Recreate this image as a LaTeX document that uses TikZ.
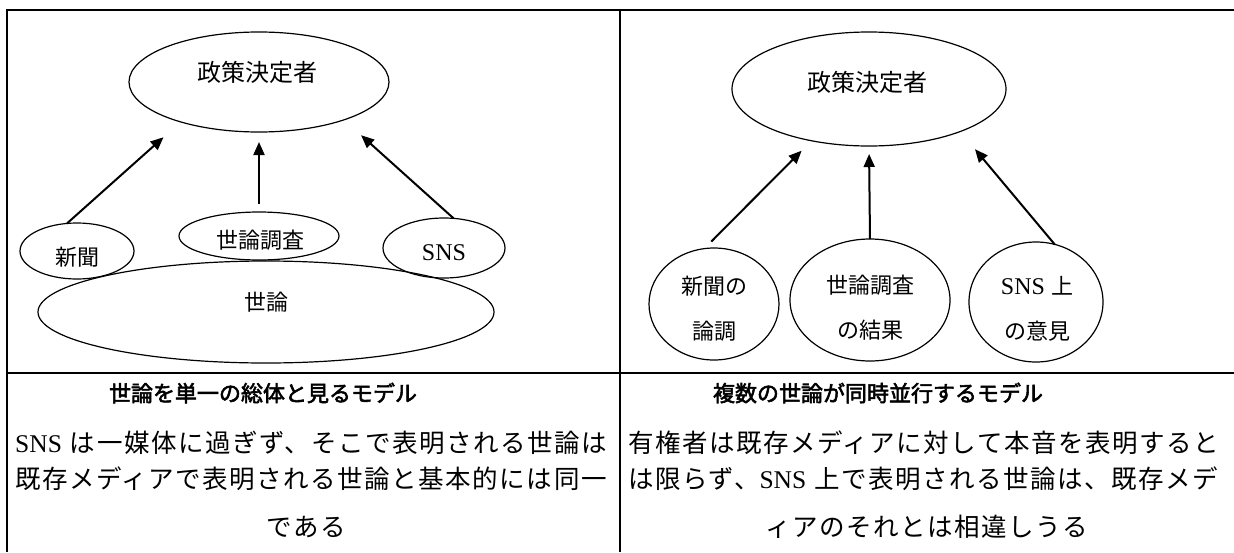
\documentclass[tikz,border=0pt]{standalone}
\usepackage{fontspec}
\setmainfont{Noto Sans CJK JP}
\newfontfamily\lat{Liberation Serif}
\newfontfamily\bodyjp[LetterSpace=6]{Noto Sans CJK JP}
\newfontfamily\titlejp[FakeBold=2.5]{Noto Sans CJK JP}
\usetikzlibrary{arrows.meta,shapes.geometric}
\begin{document}
\begin{tikzpicture}[x=1pt,y=-1pt,
  frame/.style={line width=2.5pt, line join=miter},
  ell/.style={draw, ellipse, line width=1.2pt, inner sep=0pt, outer sep=0pt},
  arr/.style={line width=2pt, -{Triangle[length=13pt,width=11pt]}},
  lbl/.style={inner sep=0pt, font=\fontsize{22pt}{26pt}\selectfont},
  lbltwo/.style={inner sep=0pt, align=center, font=\fontsize{22pt}{45pt}\selectfont},
  lblbig/.style={inner sep=0pt, font=\fontsize{24pt}{28pt}\selectfont},
  latlbl/.style={font=\lat\fontsize{24pt}{28pt}\selectfont},
  titletext/.style={inner sep=0pt, font=\titlejp\fontsize{22pt}{26pt}\selectfont},
  bodytext/.style={inner sep=0pt, font=\bodyjp\fontsize{25.5pt}{30pt}\selectfont}
]
\useasboundingbox (0,0) rectangle (1234,552);

% frame
\draw[frame] (7,552) -- (7,10) -- (1234,10);
\draw[frame] (620,10) -- (620,552);
\draw[frame] (7,373) -- (1234,373);

% left diagram
\node[ell, minimum width=260, minimum height=100] (pd1) at (259,82) {};
\node[ell, minimum width=114, minimum height=56] (shin1) at (77,251) {};
\node[ell, minimum width=160, minimum height=48] (chosa1) at (259,236) {};
\node[ell, minimum width=122, minimum height=60] (sns1) at (444,248) {};
\node[ell, minimum width=456, minimum height=102] (yoron) at (266,312) {};

\node[lblbig] (tpd1) at (257,72) {政策決定者};
\node[lbl] (tshin1) at (77,257) {新聞};
\node[lbl] (tchosa1) at (260,240) {世論調査};
\node[lbl, latlbl] (tsns1) at (444,253) {SNS};
\node[lbl] (tyoron) at (266,302) {世論};

\draw[arr, shorten >=23pt] (shin1.110) -- (pd1.207);
\draw[arr, shorten <=8pt, shorten >=10pt] (chosa1.north) -- (pd1.south);
\draw[arr, shorten >=23pt] (sns1.72) -- (pd1.336);

% right diagram
\node[ell, minimum width=274, minimum height=114] (pd2) at (869,89) {};
\node[ell, minimum width=130, minimum height=112] (shin2) at (714,304) {};
\node[ell, minimum width=160, minimum height=122] (chosa2) at (870,300) {};
\node[ell, minimum width=134, minimum height=120] (sns2) at (1036,302) {};

\node[lblbig] (tpd2) at (867,82) {政策決定者};
\node[lbltwo] (tshin2) at (714,309) {新聞の\\論調};
\node[lbltwo] (tchosa2) at (870,308) {世論調査\\の結果};
\node[lbltwo] (tsns2) at (1037,309) {{\lat\fontsize{24pt}{45pt}\selectfont SNS}\hspace{6pt}上\\の意見};

\draw[arr, shorten <=10pt, shorten >=14pt] (shin2.100) -- (pd2.222);
\draw[arr, shorten >=8pt] (chosa2.north) -- (pd2.south);
\draw[arr, shorten >=23pt] (sns2.72) -- (pd2.335);

% captions
\node[titletext] (h1) at (263,393) {世論を単一の総体と見るモデル};
\node[titletext] (h2) at (878,393) {複数の世論が同時並行するモデル};

\node[bodytext, anchor=west] (b11) at (15,443) {{\lat SNS}\hspace{8pt}は一媒体に過ぎず、そこで表明される世論は};
\node[bodytext, anchor=west] (b12) at (15,479) {既存メディアで表明される世論と基本的には同一};
\node[bodytext] (b13) at (306,527) {である};
\node[bodytext, anchor=west] (b21) at (628,443) {有権者は既存メディアに対して本音を表明すると};
\node[bodytext, anchor=west] (b22) at (628,479) {は限らず、{\lat SNS}\hspace{8pt}上で表明される世論は、既存メデ};
\node[bodytext] (b23) at (927,527) {ィアのそれとは相違しうる};
\end{tikzpicture}
\end{document}
